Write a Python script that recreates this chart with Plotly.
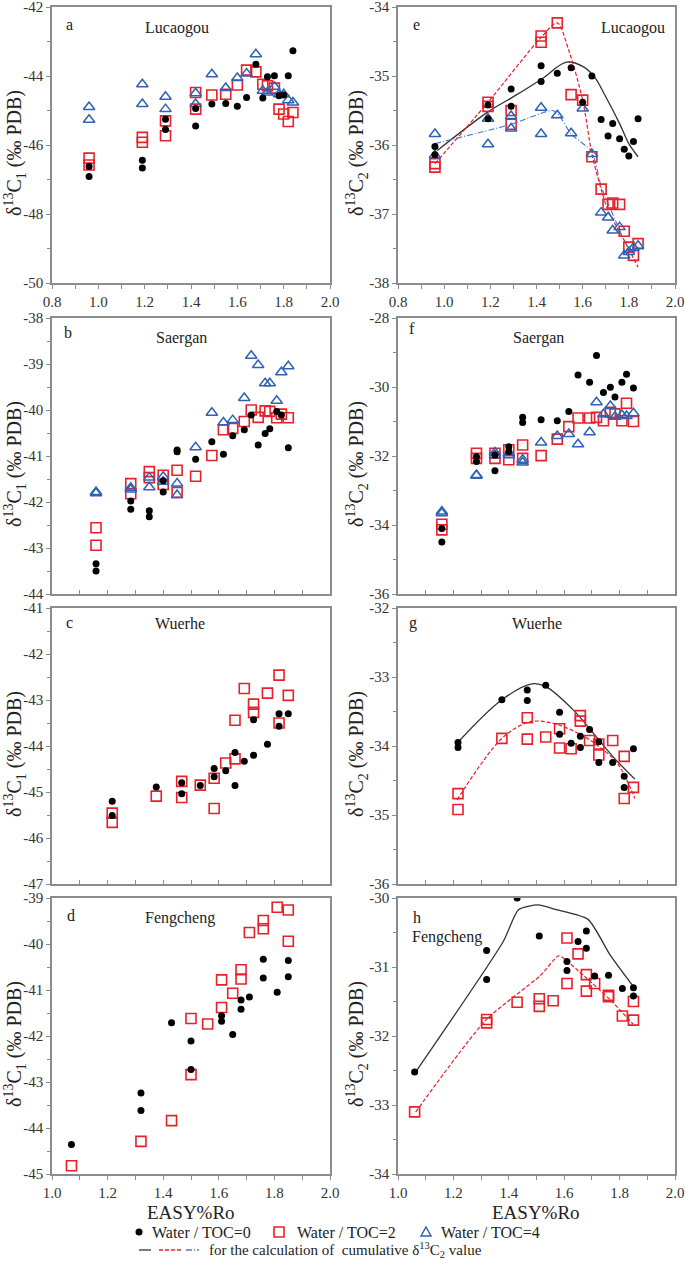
import plotly.graph_objects as go

# ---------------- data ----------------
# Lucaogou (a: d13C1, e: d13C2)
lu_x = [0.96, 0.96, 1.19, 1.19, 1.29, 1.29, 1.42, 1.42, 1.49, 1.55, 1.60, 1.64, 1.68, 1.71, 1.73, 1.76, 1.78, 1.80, 1.82, 1.84]
a_y0 = [-46.62, -46.91, -46.44, -46.67, -45.25, -45.55, -44.94, -45.45, -44.81, -44.80, -44.88, -44.62, -43.66, -44.64, -44.02, -43.99, -44.57, -44.55, -43.99, -43.27]
a_y2 = [-46.38, -46.58, -45.78, -45.92, -45.30, -45.73, -44.48, -44.96, -44.55, -44.53, -44.26, -43.83, -43.88, -44.24, -44.28, -44.35, -44.96, -45.10, -45.32, -45.06]
a_y4 = [-44.90, -45.27, -44.24, -44.81, -44.60, -44.96, -44.50, -44.81, -43.95, -44.35, -44.06, -43.93, -43.37, -44.43, -44.48, -44.31, -44.53, -44.53, -44.70, -44.77]
e_y0 = [-36.02, -36.14, -35.42, -35.62, -35.19, -35.44, -34.85, -35.08, -34.96, -34.88, -35.38, -35.00, -35.63, -35.87, -35.69, -35.91, -36.06, -36.16, -35.95, -35.62]
e_y2 = [-36.27, -36.32, -35.38, -35.44, -35.50, -35.70, -34.42, -34.51, -34.23, -35.27, -35.35, -36.17, -36.64, -36.86, -36.84, -36.86, -37.25, -37.48, -37.60, -37.43]
e_y4 = [-35.84, -36.15, -35.62, -35.99, -35.58, -35.76, -35.46, -35.84, -35.57, -35.83, -35.47, -36.13, -36.98, -37.05, -37.24, -37.19, -37.60, -37.55, -37.49, -37.46]
e_cx0 = [0.97, 1.19, 1.29, 1.42, 1.53, 1.60, 1.65, 1.70, 1.76, 1.80, 1.84]
e_cy0 = [-36.08, -35.52, -35.32, -35.05, -34.80, -34.86, -35.01, -35.30, -35.69, -35.98, -36.17]
e_cx2 = [0.96, 1.19, 1.42, 1.49, 1.54, 1.60, 1.64, 1.68, 1.71, 1.78, 1.84]
e_cy2 = [-36.27, -35.38, -34.44, -34.23, -34.63, -35.35, -36.13, -36.64, -36.95, -37.38, -37.77]
e_cx4 = [0.96, 1.29, 1.47, 1.50, 1.55, 1.64, 1.68, 1.73, 1.80, 1.84]
e_cy4 = [-35.98, -35.70, -35.50, -35.58, -35.84, -36.10, -36.60, -37.00, -37.50, -37.55]

# Saergan (b: d13C1, f: d13C2)
sa_x = [0.99, 0.99, 1.14, 1.14, 1.22, 1.22, 1.28, 1.28, 1.34, 1.34, 1.42, 1.49, 1.54, 1.58, 1.63, 1.66, 1.69, 1.72, 1.74, 1.77, 1.79, 1.82]
b_y0 = [-43.34, -43.50, -41.98, -42.16, -42.19, -42.32, -41.54, -41.78, -40.87, -40.91, -41.07, -40.69, -40.96, -40.56, -40.43, -40.11, -40.76, -40.51, -40.41, -40.03, -40.11, -40.82]
b_y2 = [-42.56, -42.94, -41.60, -41.82, -41.34, -41.47, -41.42, -41.62, -41.31, -41.79, -41.44, -40.99, -40.43, -40.40, -40.25, -40.00, -40.16, -40.02, -40.03, -40.17, -40.09, -40.17]
b_y4 = [-41.78, -41.81, -41.69, -41.73, -41.47, -41.68, -41.45, -41.56, -41.60, -41.85, -40.81, -40.06, -40.27, -40.22, -39.74, -38.82, -39.02, -39.42, -39.42, -39.80, -39.18, -39.05]
f_y0 = [-34.10, -34.49, -32.02, -32.16, -31.97, -32.43, -31.73, -31.87, -30.88, -31.03, -30.95, -30.98, -30.71, -29.65, -29.86, -29.09, -30.16, -30.01, -30.29, -29.86, -29.63, -30.03]
f_y2 = [-33.98, -34.14, -31.92, -32.07, -31.92, -32.07, -31.82, -32.11, -31.68, -32.07, -31.99, -31.51, -31.15, -30.90, -30.90, -30.88, -30.98, -30.73, -30.78, -30.98, -30.47, -31.00]
f_y4 = [-33.61, -33.66, -32.55, -32.57, -31.90, -31.98, -31.92, -31.98, -32.11, -32.19, -31.61, -31.42, -31.36, -31.66, -31.31, -30.44, -30.79, -30.55, -30.86, -30.81, -30.84, -30.76]

# Wuerhe (c: d13C1, g: d13C2)
wu_x = [1.06, 1.06, 1.25, 1.36, 1.36, 1.44, 1.50, 1.50, 1.55, 1.59, 1.59, 1.63, 1.67, 1.67, 1.73, 1.78, 1.78, 1.82]
c_y0 = [-45.20, -45.51, -44.89, -44.80, -45.04, -44.86, -44.49, -44.67, -44.54, -44.14, -44.86, -44.33, -43.43, -44.20, -43.96, -43.30, -43.57, -43.30]
c_y2 = [-45.46, -45.66, -45.09, -44.77, -45.12, -44.85, -44.70, -45.36, -44.37, -43.44, -44.28, -42.75, -43.09, -43.27, -42.85, -42.46, -43.50, -42.90]
g_y0 = [-33.95, -34.02, -33.33, -33.19, -33.34, -33.12, -33.51, -33.83, -33.96, -33.86, -34.02, -33.76, -33.94, -34.24, -34.24, -34.44, -34.60, -34.04]
g_y2 = [-34.69, -34.92, -33.89, -33.59, -33.90, -33.87, -33.75, -34.03, -34.04, -33.56, -33.64, -33.92, -33.97, -34.13, -33.92, -34.15, -34.76, -34.60]
g_cx0 = [1.056, 1.25, 1.38, 1.44, 1.56, 1.645, 1.73, 1.826]
g_cy0 = [-33.96, -33.33, -33.10, -33.14, -33.48, -33.81, -34.15, -34.48]
g_cx2 = [1.056, 1.25, 1.36, 1.42, 1.50, 1.595, 1.667, 1.75, 1.826]
g_cy2 = [-34.78, -33.89, -33.66, -33.64, -33.70, -33.84, -34.00, -34.25, -34.76]

# Fengcheng (d: d13C1, h: d13C2)
d_x0 = [1.07, 1.32, 1.32, 1.43, 1.50, 1.50, 1.61, 1.61, 1.65, 1.68, 1.68, 1.71, 1.76, 1.76, 1.81, 1.85, 1.85]
d_y0 = [-44.36, -43.24, -43.62, -41.71, -42.11, -42.73, -41.56, -41.68, -41.97, -41.22, -41.42, -41.15, -40.33, -40.74, -41.05, -40.36, -40.71]
d_x2 = [1.07, 1.32, 1.43, 1.50, 1.50, 1.56, 1.61, 1.61, 1.65, 1.68, 1.68, 1.71, 1.76, 1.76, 1.81, 1.85, 1.85]
d_y2 = [-44.82, -44.29, -43.84, -41.62, -42.84, -41.74, -40.78, -41.38, -41.07, -40.56, -40.76, -39.75, -39.49, -39.67, -39.20, -39.26, -39.94]
h_x0 = [1.06, 1.32, 1.32, 1.43, 1.51, 1.61, 1.61, 1.65, 1.68, 1.68, 1.71, 1.76, 1.81, 1.85, 1.85]
h_y0 = [-32.52, -30.76, -31.18, -30.00, -30.55, -30.92, -31.05, -30.63, -30.48, -30.73, -31.13, -31.12, -31.31, -31.30, -31.42]
h_x2 = [1.06, 1.32, 1.32, 1.43, 1.51, 1.51, 1.56, 1.61, 1.61, 1.65, 1.68, 1.68, 1.71, 1.76, 1.76, 1.81, 1.85, 1.85]
h_y2 = [-33.10, -31.76, -31.81, -31.51, -31.46, -31.57, -31.49, -30.58, -31.24, -30.81, -31.11, -31.35, -31.24, -31.41, -31.43, -31.71, -31.50, -31.77]
h_cx0 = [1.064, 1.38, 1.435, 1.506, 1.572, 1.686, 1.765, 1.849]
h_cy0 = [-32.52, -30.63, -30.17, -30.10, -30.17, -30.31, -30.82, -31.28]
h_cx2 = [1.064, 1.317, 1.512, 1.578, 1.59, 1.68, 1.765, 1.849]
h_cy2 = [-33.10, -31.77, -31.13, -30.84, -30.85, -31.16, -31.47, -31.83]

panel_letters = ["a", "e", "b", "f", "c", "g", "d", "h"]
basin_names = ["Lucaogou", "Lucaogou", "Saergan", "Saergan", "Wuerhe", "Wuerhe", "Fengcheng", "Fengcheng"]
legend_labels = ["Water / TOC=0", "Water / TOC=2", "Water / TOC=4"]
curve_label = "for the calculation of  cumulative \u03b4<sup>13</sup>C<sub>2</sub> value"
x_title = "EASY%Ro"
y_title_c1 = "\u03b4<sup>13</sup>C<sub>1</sub> (\u2030 PDB)"
y_title_c2 = "\u03b4<sup>13</sup>C<sub>2</sub> (\u2030 PDB)"

# ---------------- style / layout ----------------
FONT = "Liberation Serif, 'Times New Roman', Times, serif"
AX = "#8c8c8c"
TXT = "#333333"
RED = "#E8202A"
BLUE = "#2F62B5"
W, H = 685, 1265


def fx(p):
    return p / W


def fy(p):
    return 1 - p / H


COLS = [(52, 330), (398, 675)]
ROWS = [(7, 283), (318, 594), (608, 884), (898, 1174)]

# y-axis specs per panel: (lo, hi, major step, minor step)
yspec = [(-50, -42, 2, 1), (-38, -34, 1, 0.5),
         (-44, -38, 1, 0.5), (-36, -28, 2, 1),
         (-47, -41, 1, 0.5), (-36, -32, 1, 0.5),
         (-45, -39, 1, 0.5), (-34, -30, 1, 0.5)]


def frange(a, b, s):
    out = []
    n = int(round((b - a) / s))
    for i in range(n + 1):
        out.append(round(a + i * s, 4))
    return out


fig = go.Figure()


def add_markers(k, xs0, ys0, xs2, ys2, xs4=None, ys4=None):
    xa = "x" if k == 0 else f"x{k+1}"
    ya = "y" if k == 0 else f"y{k+1}"
    fig.add_trace(go.Scatter(x=xs2, y=ys2, mode="markers", xaxis=xa, yaxis=ya, showlegend=False,
                             marker=dict(symbol="square-open", size=10, color=RED, line=dict(width=1.6, color=RED))))
    if xs4 is not None:
        fig.add_trace(go.Scatter(x=xs4, y=ys4, mode="markers", xaxis=xa, yaxis=ya, showlegend=False,
                                 marker=dict(symbol="triangle-up-open", size=10, color=BLUE, line=dict(width=1.5, color=BLUE))))
    fig.add_trace(go.Scatter(x=xs0, y=ys0, mode="markers", xaxis=xa, yaxis=ya, showlegend=False,
                             marker=dict(symbol="circle", size=7, color="black")))


def add_curve(k, xs, ys, color, dash, smooth=1.0, width=1.2):
    xa = "x" if k == 0 else f"x{k+1}"
    ya = "y" if k == 0 else f"y{k+1}"
    fig.add_trace(go.Scatter(x=xs, y=ys, mode="lines", xaxis=xa, yaxis=ya, showlegend=False,
                             line=dict(color=color, dash=dash, width=width, shape="spline", smoothing=smooth)))


# curves first (under markers)
add_curve(1, e_cx0, e_cy0, "#333333", "solid", 1.0, 1.3)
add_curve(1, e_cx2, e_cy2, RED, "4px,2px", 0.8)
add_curve(1, e_cx4, e_cy4, "#4a80cc", "6px,2px,1px,2px", 0.6)
add_curve(5, g_cx0, g_cy0, "#333333", "solid", 1.0, 1.3)
add_curve(5, g_cx2, g_cy2, RED, "4px,2px", 1.0)
add_curve(7, h_cx0, h_cy0, "#333333", "solid", 0.6, 1.3)
add_curve(7, h_cx2, h_cy2, RED, "4px,2px", 0.6)

add_markers(0, lu_x, a_y0, lu_x, a_y2, lu_x, a_y4)
add_markers(1, lu_x, e_y0, lu_x, e_y2, lu_x, e_y4)
add_markers(2, sa_x, b_y0, sa_x, b_y2, sa_x, b_y4)
add_markers(3, sa_x, f_y0, sa_x, f_y2, sa_x, f_y4)
add_markers(4, wu_x, c_y0, wu_x, c_y2)
add_markers(5, wu_x, g_y0, wu_x, g_y2)
add_markers(6, d_x0, d_y0, d_x2, d_y2)
add_markers(7, h_x0, h_y0, h_x2, h_y2)

layout = dict(width=W, height=H, margin=dict(l=0, r=0, t=0, b=0, autoexpand=False),
              paper_bgcolor="white", plot_bgcolor="white", showlegend=False,
              font=dict(family=FONT, size=15, color=TXT))

annotations = []
shapes = []
for k in range(8):
    row, col = divmod(k, 2)
    x0p, x1p = COLS[col]
    y0p, y1p = ROWS[row]
    xname = "xaxis" if k == 0 else f"xaxis{k+1}"
    yname = "yaxis" if k == 0 else f"yaxis{k+1}"
    xa = "x" if k == 0 else f"x{k+1}"
    ya = "y" if k == 0 else f"y{k+1}"
    if row < 3:
        xr = [0.8, 2.0]
        xmaj = frange(0.8, 2.0, 0.2)
    else:
        xr = [1.0, 2.0]
        xmaj = frange(1.0, 2.0, 0.2)
    if row in (1, 2):
        xtv = frange(0.8, 2.0, 0.12)
        xaxis = dict(domain=[fx(x0p), fx(x1p)], range=xr, anchor=ya, showline=True, mirror=True,
                     linecolor=AX, linewidth=1.5, ticks="inside", ticklen=4, tickcolor=AX, tickwidth=1.2,
                     tickmode="array", tickvals=xtv, showticklabels=False, showgrid=False, zeroline=False,
                     automargin=False)
    else:
        xaxis = dict(domain=[fx(x0p), fx(x1p)], range=xr, anchor=ya, showline=True, mirror=True,
                     linecolor=AX, linewidth=1.5, ticks="outside", ticklen=4, tickcolor=AX, tickwidth=1.2,
                     tickmode="array", tickvals=xmaj, ticktext=[f"{v:.1f}" for v in xmaj],
                     showticklabels=True, tickfont=dict(family=FONT, size=15, color=TXT),
                     ticklabeloverflow="allow",
                     showgrid=False, zeroline=False, automargin=False,
                     minor=dict(ticks="outside", ticklen=4, tickcolor=AX, tickwidth=1.2,
                                tickvals=frange(xr[0] + 0.1, xr[1] - 0.1, 0.2), showgrid=False))
    lo, hi, st, mst = yspec[k]
    ymaj = frange(lo, hi, st)
    ymin = [v for v in frange(lo, hi, mst) if v not in ymaj]
    yaxis = dict(domain=[fy(y1p), fy(y0p)], range=[lo, hi], anchor=xa, showline=True, mirror=True,
                 linecolor=AX, linewidth=1.5, ticks="outside", ticklen=4, tickcolor=AX, tickwidth=1.2,
                 tickmode="array", tickvals=ymaj, ticktext=[f"-{abs(int(v))}" for v in ymaj],
                 tickfont=dict(family=FONT, size=15, color=TXT), showgrid=False, zeroline=False,
                 automargin=False, ticklabeloverflow="allow",
                 minor=dict(ticks="outside", ticklen=3, tickcolor=AX, tickwidth=1.2, tickvals=ymin, showgrid=False))
    layout[xname] = xaxis
    layout[yname] = yaxis

    # y-axis title
    annotations.append(dict(text=y_title_c1 if col == 0 else y_title_c2, xref="paper", yref="paper",
                            x=fx(15 if col == 0 else 357), y=fy((y0p + y1p) / 2 + 8), textangle=-90,
                            showarrow=False, xanchor="center", yanchor="middle",
                            font=dict(family=FONT, size=20, color="#222222")))

# panel letters and basin names (pixel positions within page)
letter_pos = [(69, 25), (416, 24), (68, 332), (412, 328), (69, 622), (413, 623), (71, 915), (417, 917)]
name_pos = [(177, 28), (633, 28), (181, 338), (538, 338), (180, 623), (537, 623), (180, 918), (447, 937)]
for k in range(8):
    lx, ly = letter_pos[k]
    nx, ny = name_pos[k]
    annotations.append(dict(text=panel_letters[k], xref="paper", yref="paper", x=fx(lx), y=fy(ly),
                            showarrow=False, xanchor="center", yanchor="middle",
                            font=dict(family=FONT, size=16, color="#222222")))
    annotations.append(dict(text=basin_names[k], xref="paper", yref="paper", x=fx(nx), y=fy(ny),
                            showarrow=False, xanchor="center", yanchor="middle",
                            font=dict(family=FONT, size=16, color="#222222")))

# x titles
for cx in (191, 536):
    annotations.append(dict(text=x_title, xref="paper", yref="paper", x=fx(cx), y=fy(1212),
                            showarrow=False, xanchor="center", yanchor="middle",
                            font=dict(family=FONT, size=19, color="#222222")))

# legend
leg_y1, leg_y2 = 1232, 1250
leg_text_x = [150, 295, 439]
for lab, tx in zip(legend_labels, leg_text_x):
    annotations.append(dict(text=lab, xref="paper", yref="paper", x=fx(tx), y=fy(leg_y1),
                            showarrow=False, xanchor="left", yanchor="middle",
                            font=dict(family=FONT, size=16, color="#222222")))
annotations.append(dict(text=curve_label, xref="paper", yref="paper", x=fx(207), y=fy(leg_y2),
                        showarrow=False, xanchor="left", yanchor="middle",
                        font=dict(family=FONT, size=15, color="#222222")))

# legend glyphs (pixel-sized shapes anchored in paper space)
shapes.append(dict(type="circle", xref="paper", yref="paper", xsizemode="pixel", ysizemode="pixel",
                   xanchor=fx(139), yanchor=fy(leg_y1), x0=-3.5, x1=3.5, y0=-3.5, y1=3.5,
                   fillcolor="black", line=dict(color="black", width=0)))
shapes.append(dict(type="rect", xref="paper", yref="paper", xsizemode="pixel", ysizemode="pixel",
                   xanchor=fx(279), yanchor=fy(leg_y1), x0=-5, x1=5, y0=-5, y1=5,
                   line=dict(color=RED, width=1.6)))
shapes.append(dict(type="path", xref="paper", yref="paper", xsizemode="pixel", ysizemode="pixel",
                   xanchor=fx(426), yanchor=fy(leg_y1), path="M -5,-4 L 5,-4 L 0,5 Z",
                   line=dict(color=BLUE, width=1.5)))
for (a, b, col, dash) in [(139, 151, "#333333", "solid"), (159, 183, RED, "4px,2px"),
                          (186, 199, "#4a80cc", "6px,2px,1px,2px")]:
    shapes.append(dict(type="line", xref="paper", yref="paper", x0=fx(a), x1=fx(b),
                       y0=fy(leg_y2), y1=fy(leg_y2), line=dict(color=col, width=1.3, dash=dash)))

layout["annotations"] = annotations
layout["shapes"] = shapes
fig.update_layout(**layout)
fig.write_html("out.html", config={"displayModeBar": False},
               post_script="document.body.style.margin='0';document.body.style.overflow='hidden';")
